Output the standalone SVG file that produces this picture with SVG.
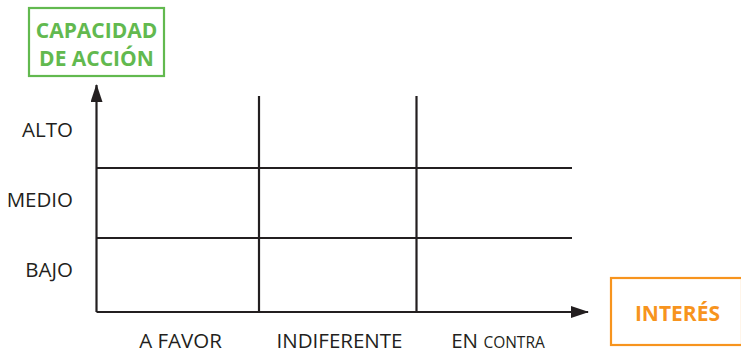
<svg xmlns="http://www.w3.org/2000/svg" width="741" height="350" viewBox="0 0 741 350">
<defs>
<style>
.ax{stroke:#231f20;stroke-width:2.2;fill:none}
.lbl{font-family:"Open Sans","Liberation Sans",sans-serif;font-size:20.5px;fill:#231f20}
.ttl{font-family:"Open Sans","Liberation Sans",sans-serif;font-size:21px;font-weight:bold}
</style>
<marker id="arr" viewBox="0 0 18 12" refX="17" refY="6" markerWidth="18" markerHeight="12" markerUnits="userSpaceOnUse" orient="auto">
<path d="M0,0 L18,6 L0,12 Z" fill="#231f20"/>
</marker>
</defs>
<rect width="741" height="350" fill="#fff"/>
<g id="connectors">
<line class="ax" x1="96.5" y1="312" x2="96.5" y2="85" marker-end="url(#arr)"/>
<line class="ax" x1="96.5" y1="312" x2="588" y2="312" marker-end="url(#arr)"/>
<line class="ax" x1="96.5" y1="168" x2="572" y2="168"/>
<line class="ax" x1="96.5" y1="238" x2="572" y2="238"/>
<line class="ax" x1="259" y1="96" x2="259" y2="312"/>
<line class="ax" x1="416.5" y1="96" x2="416.5" y2="312"/>
</g>
<g id="capacidad">
<rect x="29" y="8" width="135" height="68" fill="#fff" stroke="#62b94f" stroke-width="2.2"/>
<text class="ttl" fill="#62b94f" x="96.5" y="37.5" text-anchor="middle">CAPACIDAD</text>
<text class="ttl" fill="#62b94f" x="96.5" y="66" text-anchor="middle">DE ACCIÓN</text>
</g>
<g id="interes">
<rect x="611" y="278" width="131" height="67" fill="#fff" stroke="#f7941e" stroke-width="2.2"/>
<text class="ttl" fill="#f7941e" x="677.5" y="321" text-anchor="middle" font-size="22">INTERÉS</text>
</g>
<g id="labels-y">
<text class="lbl" x="73" y="137" text-anchor="end">ALTO</text>
<text class="lbl" x="73" y="207" text-anchor="end">MEDIO</text>
<text class="lbl" x="73" y="277" text-anchor="end">BAJO</text>
</g>
<g id="labels-x">
<text class="lbl" x="180.5" y="348" text-anchor="middle">A FAVOR</text>
<text class="lbl" x="339.5" y="348" text-anchor="middle">INDIFERENTE</text>
<text class="lbl" x="498" y="348" text-anchor="middle">EN <tspan font-size="15.5">CONTRA</tspan></text>
</g>
</svg>
